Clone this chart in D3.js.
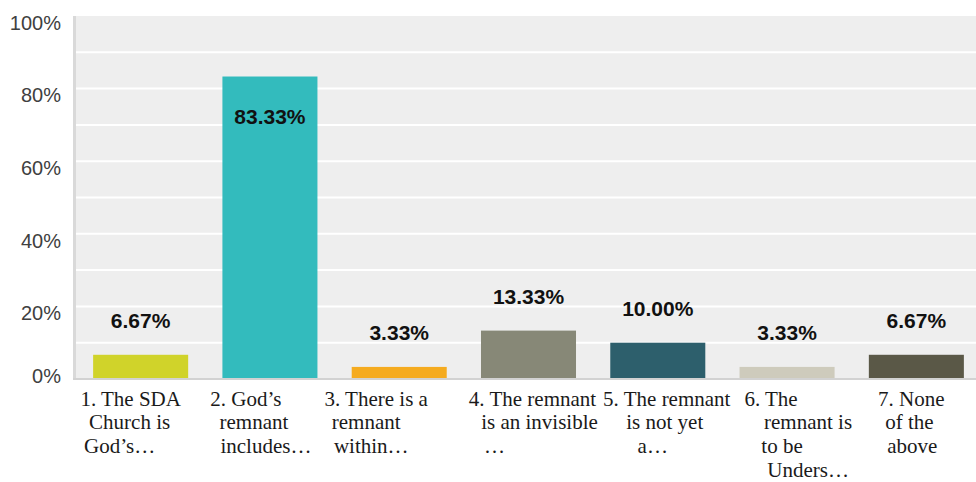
<!DOCTYPE html>
<html>
<head>
<meta charset="utf-8">
<script src="https://cdn.jsdelivr.net/npm/d3@7/dist/d3.min.js"></script>
<style>
  body { margin: 0; background: #fff; }
  svg { display: block; }
</style>
</head>
<body>
<svg id="chart" width="976" height="482"></svg>
<script>
// Survey responses: share of respondents choosing each statement
const categories = ["1", "2", "3", "4", "5", "6", "7"];
const values = [6.67, 83.33, 3.33, 13.33, 10.00, 3.33, 6.67];
const valueLabels = ["6.67%", "83.33%", "3.33%", "13.33%", "10.00%", "3.33%", "6.67%"];
const barColors = ["#d0d32a", "#33bbbd", "#f5ab1f", "#878877", "#2d5f6c", "#cecbbc", "#5a5847"];
const yTicks = [0, 20, 40, 60, 80, 100];
const yTickLabels = ["0%", "20%", "40%", "60%", "80%", "100%"];
const gridValues = [10, 20, 30, 40, 50, 60, 70, 80, 90];
// Wrapped (and truncated) answer texts
const categoryLines = [
  ["1. The SDA", "Church is", "God\u2019s\u2026"],
  ["2. God\u2019s", "remnant", "includes\u2026"],
  ["3. There is a", "remnant", "within\u2026"],
  ["4. The remnant", "is an invisible", "\u2026"],
  ["5. The remnant", "is not yet", "a\u2026"],
  ["6. The", "remnant is", "to be", "Unders\u2026"],
  ["7. None", "of the", "above"]
];

// ---- layout ----
const W = 976, H = 482;
const plot = { left: 76, right: 981, top: 16, bottom: 379 };
const catFont = 21, catFirstBaseline = 405.5, catLineGap = 23.8;
// horizontal nudge (px) of each wrapped line relative to its band centre
const lineNudge = [
  [-10, -11, -21],
  [-24, -16, -4],
  [-23, -33, -28],
  [4, 11, -34],
  [9, 7, -5],
  [-16, 21, -5, 21],
  [-5, -7, -4]
];

const svg = d3.select("#chart");

const x = d3.scaleBand()
  .domain(categories)
  .range([plot.left, plot.right])
  .paddingInner(0.265)
  .paddingOuter(0.1325);

const y = d3.scaleLinear()
  .domain([0, 100])
  .range([plot.bottom, plot.top]);

// plot background
svg.append("rect")
  .attr("x", plot.left)
  .attr("y", plot.top)
  .attr("width", W - plot.left)
  .attr("height", plot.bottom - plot.top)
  .attr("fill", "#eeeeee");

// horizontal grid
svg.append("g")
  .selectAll("line")
  .data(gridValues)
  .join("line")
  .attr("x1", plot.left)
  .attr("x2", W)
  .attr("y1", d => y(d))
  .attr("y2", d => y(d))
  .attr("stroke", "#ffffff")
  .attr("stroke-width", 2);

// left axis rule
svg.append("line")
  .attr("x1", plot.left - 1.5).attr("x2", plot.left - 1.5)
  .attr("y1", plot.top).attr("y2", plot.bottom)
  .attr("stroke", "#d9d9d9")
  .attr("stroke-width", 3);

// bars
svg.append("g")
  .selectAll("rect")
  .data(values)
  .join("rect")
  .attr("x", (d, i) => x(categories[i]))
  .attr("y", d => y(d))
  .attr("width", x.bandwidth())
  .attr("height", d => y(0) - y(d))
  .attr("fill", (d, i) => barColors[i]);

// baseline
svg.append("line")
  .attr("x1", plot.left - 3).attr("x2", W)
  .attr("y1", y(0)).attr("y2", y(0))
  .attr("stroke", "#d2d2d2")
  .attr("stroke-width", 2);

// y axis labels: set just below their gridline, the bottom one lifted above the baseline
const yAxis = d3.axisLeft(y)
  .tickValues(yTicks)
  .tickFormat((d, i) => yTickLabels[i])
  .tickSize(0)
  .tickPadding(15);

const yg = svg.append("g")
  .attr("transform", `translate(${plot.left},0)`)
  .call(yAxis);
yg.select(".domain").remove();
yg.selectAll("text")
  .attr("dy", d => d === 0 ? "0.16em" : "0.66em")
  .attr("font-family", "'Liberation Sans', Arial, sans-serif")
  .attr("font-size", 20)
  .attr("fill", "#404040");

// value labels (inside the bar when it is tall)
svg.append("g")
  .selectAll("text")
  .data(values)
  .join("text")
  .attr("x", (d, i) => x(categories[i]) + x.bandwidth() / 2)
  .attr("y", d => d > 50 ? y(d) + 47 : y(d) - 27)
  .attr("text-anchor", "middle")
  .attr("font-family", "'Liberation Sans', Arial, sans-serif")
  .attr("font-weight", "bold")
  .attr("font-size", 21)
  .attr("fill", "#111111")
  .text((d, i) => valueLabels[i]);

// category labels
const cats = svg.append("g")
  .selectAll("text")
  .data(categoryLines)
  .join("text")
  .attr("text-anchor", "middle")
  .attr("font-family", "'Liberation Serif', 'Times New Roman', serif")
  .attr("font-size", catFont)
  .attr("fill", "#1a1a1a");

cats.each(function (lines, i) {
  const cx = x(categories[i]) + x.bandwidth() / 2;
  d3.select(this).selectAll("tspan")
    .data(lines)
    .join("tspan")
    .attr("x", (d, j) => cx + lineNudge[i][j])
    .attr("y", (d, j) => catFirstBaseline + j * catLineGap)
    .text(d => d);
});
</script>
</body>
</html>
